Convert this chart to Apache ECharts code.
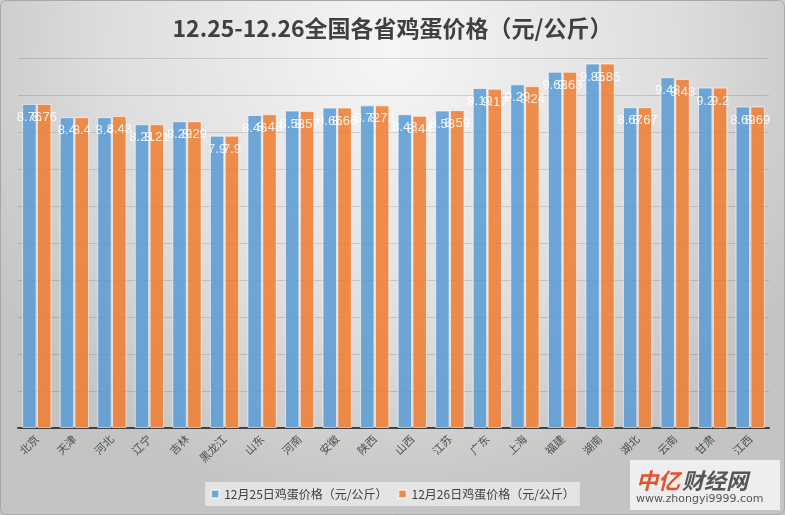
<!DOCTYPE html>
<html>
<head>
<meta charset="utf-8">
<script src="https://cdn.jsdelivr.net/npm/echarts@6/dist/echarts.min.js"></script>
<style>
  html, body { margin: 0; padding: 0; background: #fff; }
  #main { width: 785px; height: 515px; }
</style>
</head>
<body>
<div id="main"></div>
<script>
// 各省名称
var provinces = ['北京', '天津', '河北', '辽宁', '吉林', '黑龙江', '山东', '河南', '安徽', '陕西',
  '山西', '江苏', '广东', '上海', '福建', '湖南', '湖北', '云南', '甘肃', '江西']
// 12月25日价格
var price25 = [8.76, 8.4, 8.4, 8.21, 8.29, 7.9, 8.46, 8.58, 8.66, 8.72,
  8.48, 8.58, 9.19, 9.29, 9.63, 9.85, 8.67, 9.48, 9.2, 8.69]
// 12月26日价格
var price26 = [8.76, 8.4, 8.43, 8.21, 8.29, 7.9, 8.48, 8.57, 8.66, 8.72,
  8.44, 8.59, 9.17, 9.24, 9.63, 9.85, 8.67, 9.43, 9.2, 8.69]
var seriesNames = ['12月25日鸡蛋价格（元/公斤）', '12月26日鸡蛋价格（元/公斤）']

var labelStyle = {
  show: true,
  position: 'insideTop',
  distance: 7,
  color: '#fff',
  fontSize: 13,
  fontFamily: "'Liberation Sans Narrow', 'Liberation Sans', sans-serif"
}

var chart = echarts.init(document.getElementById('main'))
var option = {
  backgroundColor: {
    type: 'radial', x: 0.5, y: 0.1, r: 0.9,
    colorStops: [
      { offset: 0, color: '#f6f6f6' },
      { offset: 0.6, color: '#dedede' },
      { offset: 1, color: '#c4c4c4' }
    ]
  },
  title: {
    text: '12.25-12.26全国各省鸡蛋价格（元/公斤）',
    left: 'center',
    top: 12,
    textStyle: {
      color: '#404040',
      fontSize: 23,
      fontWeight: 'bold',
      fontFamily: "'Noto Sans CJK SC', sans-serif"
    }
  },
  legend: {
    data: seriesNames,
    bottom: 9,
    left: 'center',
    icon: 'rect',
    itemWidth: 8,
    itemHeight: 8,
    itemGap: 10,
    padding: [6, 5],
    backgroundColor: 'rgba(238,238,238,0.75)',
    textStyle: {
      color: '#404040',
      fontSize: 12,
      fontFamily: "'Noto Sans CJK SC', sans-serif"
    }
  },
  grid: {
    left: 18,
    right: 16,
    top: 58,
    bottom: 87
  },
  xAxis: {
    type: 'category',
    data: provinces,
    axisLine: { lineStyle: { color: '#404040', width: 2 } },
    axisTick: { show: false },
    axisLabel: {
      rotate: 45,
      interval: 0,
      margin: 9,
      color: '#505050',
      fontSize: 11,
      fontFamily: "'Noto Sans CJK SC', sans-serif"
    }
  },
  yAxis: {
    type: 'value',
    min: 0,
    max: 10,
    interval: 1,
    axisLine: { show: false },
    axisTick: { show: false },
    axisLabel: { show: false },
    splitLine: { lineStyle: { color: 'rgba(0,0,0,0.13)', width: 1 } }
  },
  series: [
    {
      name: seriesNames[0],
      type: 'bar',
      data: price25,
      barGap: '3%',
      barCategoryGap: '22%',
      itemStyle: { color: '#5B9BD5', opacity: 0.86, borderColor: 'rgba(255,255,255,0.7)', borderWidth: 1 },
      label: labelStyle
    },
    {
      name: seriesNames[1],
      type: 'bar',
      data: price26,
      itemStyle: { color: '#ED7D31', opacity: 0.86, borderColor: 'rgba(255,255,255,0.7)', borderWidth: 1 },
      label: labelStyle
    }
  ],
  graphic: [
    {
      type: 'rect',
      shape: { x: 0.5, y: 0.5, width: 784, height: 514, r: 6 },
      style: { fill: 'none', stroke: '#a8a8a8', lineWidth: 1 },
      z: 100
    },
    {
      type: 'group',
      left: 630,
      top: 460,
      children: [
        { type: 'rect', shape: { x: 0, y: 0, width: 150, height: 50 }, style: { fill: '#eeeeee' } },
        { type: 'text', x: 6, y: 10, style: { text: '中亿', fill: '#e5502e', fontSize: 22, fontWeight: 'bold', fontStyle: 'italic', fontFamily: "'Noto Sans CJK SC'" } },
        { type: 'text', x: 52, y: 10, style: { text: '财经网', fill: '#555555', fontSize: 22, fontWeight: 'bold', fontStyle: 'italic', fontFamily: "'Noto Sans CJK SC'" } },
        { type: 'text', x: 6, y: 34, style: { text: 'www.zhongyi9999.com', fill: '#555555', fontSize: 11, fontFamily: "'DejaVu Sans'" } }
      ]
    }
  ]
}
chart.setOption(option)
</script>
</body>
</html>
